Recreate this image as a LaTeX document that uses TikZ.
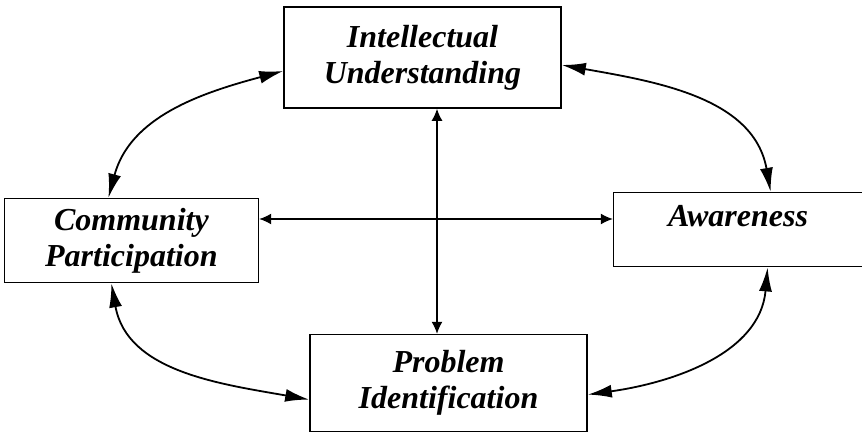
\documentclass[tikz,border=0pt]{standalone}
\usepackage{fontspec}
\setmainfont{Liberation Serif}
\usepackage{tikz}
\usetikzlibrary{positioning,arrows.meta}

\begin{document}
\begin{tikzpicture}[x=1pt,y=1pt,
	box node/.style={draw, rectangle, line width=1.6pt, inner sep=0pt, align=center,
		font=\fontsize{32}{36}\selectfont\bfseries\itshape},
	loop arrow/.style={line width=1.8pt, {Latex[length=24pt,width=13pt]}-{Latex[length=24pt,width=13pt]}},
	cross arrow/.style={line width=1.4pt, {Latex[length=12pt,width=11pt]}-{Latex[length=12pt,width=11pt]}}]

	\useasboundingbox (0,0) rectangle (862,437);

	% the four boxes
	\node[box node, minimum width=277pt, minimum height=101pt](IU) at (422.5,379.5)
		{Intellectual\\Understanding};
	\node[box node, minimum width=254pt, minimum height=84pt](CP)[below left = 89pt and 24pt of IU]
		{Community\\Participation};
	\node[box node, minimum width=249pt, minimum height=74pt, text height=18pt, text depth=24pt](AW)[below right = 83pt and 51pt of IU]
		{Awareness};
	\node[box node, minimum width=277pt, minimum height=97pt](PI)[below = 225pt of IU, xshift=26pt]
		{Problem\\Identification};

	% crossing arrows
	\coordinate (cross) at (437,218);
	\draw[cross arrow] (IU.south -| cross) -- (PI.north -| cross);
	\draw[cross arrow] (CP.east |- cross) -- (AW.west |- cross);

	% outer loop
	\draw[loop arrow] ([xshift=-23pt]CP.north) to[out=75, in=195] ([yshift=-13.5pt]IU.west);
	\draw[loop arrow] ([yshift=-7.5pt]IU.east) to[out=-10, in=100] ([xshift=32.5pt]AW.north);
	\draw[loop arrow] ([xshift=-20pt]CP.south) to[out=-80, in=170] ([yshift=-16.5pt]PI.west);
	\draw[loop arrow] ([xshift=29.5pt]AW.south) to[out=-95, in=8] ([yshift=-11.5pt]PI.east);
\end{tikzpicture}
\end{document}
